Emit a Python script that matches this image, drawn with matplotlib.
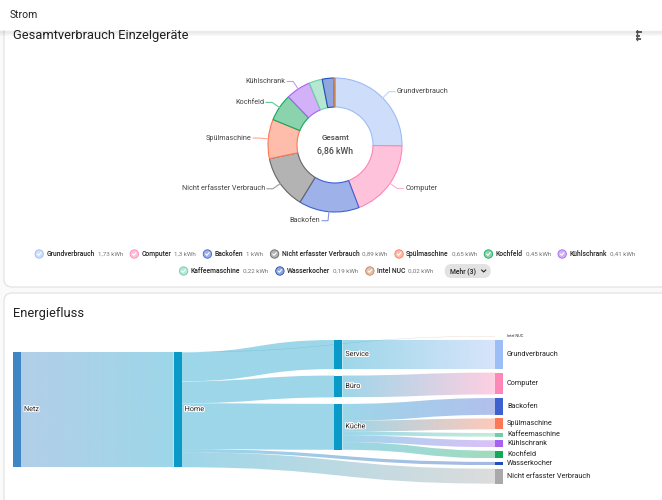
import matplotlib.pyplot as plt
import matplotlib.colors as mcolors
import matplotlib.patheffects as pe
from matplotlib.patches import FancyBboxPatch, Rectangle, Circle, PathPatch
from matplotlib.path import Path
import numpy as np

plt.rcParams['font.family'] = ['Roboto', 'DejaVu Sans']

# Verbrauch der Einzelgeraete in kWh
geraete = ['Grundverbrauch', 'Computer', 'Backofen', 'Nicht erfasster Verbrauch',
           'Spülmaschine', 'Kochfeld', 'Kühlschrank', 'Kaffeemaschine',
           'Wasserkocher', 'Intel NUC']
verbrauch = [1.73, 1.3, 1.0, 0.89, 0.65, 0.45, 0.41, 0.22, 0.19, 0.02]
werte_text = ['1,73 kWh', '1,3 kWh', '1 kWh', '0,89 kWh', '0,65 kWh', '0,45 kWh',
              '0,41 kWh', '0,22 kWh', '0,19 kWh', '0,02 kWh']
gesamt_text = '6,86 kWh'
mehr_text = 'Mehr (3)'
ring_labels = geraete[:7]          # nur die grossen bekommen ein Label am Ring
legende_zeile1 = geraete[:7]
legende_zeile2 = geraete[7:]

# Energiefluss: Reihenfolge rechts und aus welchem Bereich
fluss_ziele = ['Intel NUC', 'Grundverbrauch', 'Computer', 'Backofen', 'Spülmaschine',
               'Kaffeemaschine', 'Kühlschrank', 'Kochfeld', 'Wasserkocher',
               'Nicht erfasster Verbrauch']
fluss_bereich = ['Home', 'Service', 'Büro', 'Küche', 'Küche', 'Küche', 'Küche',
                 'Küche', 'Home', 'Home']

farben = {'Grundverbrauch': '#9cbdf5', 'Computer': '#fd87b5', 'Backofen': '#3d62d0',
          'Nicht erfasster Verbrauch': '#666666', 'Spülmaschine': '#fd7856',
          'Kochfeld': '#14a85b', 'Kühlschrank': '#a663f0', 'Kaffeemaschine': '#6ccfa8',
          'Wasserkocher': '#1f4fb8', 'Intel NUC': '#c8825a'}
knoten_farben = dict(farben)
knoten_farben['Nicht erfasster Verbrauch'] = '#a9a9a9'
knoten_farben['Netz'] = '#3f86c6'
for b in ['Home', 'Service', 'Büro', 'Küche']:
    knoten_farben[b] = '#0a9ac8'


def hell(c, f=0.5):
    r = np.array(mcolors.to_rgb(c))
    return tuple(r * (1 - f) + f)


W, H = 662, 500
fig = plt.figure(figsize=(6.62, 5.0), dpi=100, facecolor='#fafafa')

# Hintergrund-Achse in Pixeln
bg = fig.add_axes([0, 0, 1, 1])
bg.set_xlim(0, W)
bg.set_ylim(H, 0)
bg.axis('off')
bg.set_facecolor('none')

bg.add_patch(FancyBboxPatch((4, -20), 720, 307, boxstyle='round,pad=0,rounding_size=8',
                            fc='white', ec='#e0e0e0', lw=0.8))
bg.add_patch(FancyBboxPatch((4, 293), 720, 240, boxstyle='round,pad=0,rounding_size=8',
                            fc='white', ec='#e0e0e0', lw=0.8))
bg.text(13, 39.5, 'Gesamtverbrauch Einzelgeräte', fontsize=9.3, color='#212121', va='baseline')
bg.text(13, 316.5, 'Energiefluss', fontsize=9.3, color='#212121', va='baseline')

# kleines Icon rechts oben
for yy, l in [(32, 6), (35.5, 4), (39, 5)]:
    bg.plot([636, 636 + l], [yy, yy], color='#555555', lw=1.3, solid_capstyle='butt')
bg.plot([636.5, 636.5], [30, 40], color='#555555', lw=1.0)

# Kopfzeile
bg.add_patch(Rectangle((0, 0), W, 30, fc='white', ec='none', zorder=10))
for i in range(5):
    bg.plot([0, W], [30.5 + i, 30.5 + i], color='#000000', alpha=0.07 - i * 0.013, lw=1, zorder=10)
bg.text(10, 15.5, 'Strom', fontsize=7.5, color='#212121', va='center', zorder=11)

# ---------- Ring ----------
R = 67.0
ad = fig.add_axes([(335 - 150) / W, 1 - (145 + 150) / H, 300 / W, 300 / H])
fuell = [hell(farben[g]) for g in geraete]
wedges, _ = ad.pie(verbrauch, startangle=90, counterclock=False, colors=fuell,
                   wedgeprops=dict(width=29 / R, linewidth=0.8))
for w, g in zip(wedges, geraete):
    w.set_edgecolor(farben[g])
ad.set_xlim(-150 / R, 150 / R)
ad.set_ylim(-150 / R, 150 / R)
ad.set_aspect('equal')
ad.axis('off')

for w, g in zip(wedges, geraete):
    if g not in ring_labels:
        continue
    th = np.deg2rad((w.theta1 + w.theta2) / 2)
    c, s = np.cos(th), np.sin(th)
    p1 = (c * 76 / R, s * 76 / R)
    d = 1 if c > 0 else -1
    p2 = (p1[0] + d * 6 / R, p1[1])
    ad.plot([c, p1[0], p2[0]], [s, p1[1], p2[1]], color=hell(farben[g], 0.35), lw=0.8,
            clip_on=False)
    ad.text(p2[0] + d * 2 / R, p2[1], g, fontsize=5.2, color='#444444',
            ha='left' if d > 0 else 'right', va='center')

ad.text(0, 7 / R, 'Gesamt', ha='center', va='center', fontsize=5.8, color='#4a4a4a',
        weight='medium')
ad.text(0, -6 / R, gesamt_text, ha='center', va='center', fontsize=6.3, color='#4a4a4a',
        weight='medium')

# ---------- Legende ----------
renderer = fig.canvas.get_renderer()


def legende(zeile, y, chip=False):
    teile = []
    gesamtbreite = 0
    for g in zeile:
        i = geraete.index(g)
        t1 = bg.text(0, y, g, fontsize=4.9, color='#212121', va='center', weight='medium')
        t2 = bg.text(0, y, werte_text[i], fontsize=4.5, color='#757575', va='center')
        b1 = t1.get_window_extent(renderer).width
        b2 = t2.get_window_extent(renderer).width
        teile.append((g, t1, t2, b1, b2))
        gesamtbreite += 11.5 + b1 + 3 + b2
    gesamtbreite += 7 * (len(zeile) - 1)
    if chip:
        gesamtbreite += 11 + 46
    x = 335 - gesamtbreite / 2
    for g, t1, t2, b1, b2 in teile:
        bg.add_patch(Circle((x + 4.3, y), 4.2, fc=hell(farben[g]), ec=farben[g], lw=0.6))
        bg.plot([x + 2.6, x + 3.8, x + 6.0], [y + 0.1, y + 1.3, y - 1.3], color='white', lw=0.8)
        x += 11.5
        t1.set_x(x)
        x += b1 + 3
        t2.set_x(x)
        x += b2 + 7
    if chip:
        x += 4
        bg.add_patch(FancyBboxPatch((x, y - 7), 46, 14, boxstyle='round,pad=0,rounding_size=7',
                                    fc='#e2e2e2', ec='none'))
        bg.text(x + 5, y, mehr_text, fontsize=4.9, color='#212121', va='center', weight='medium')
        bg.plot([x + 37, x + 39, x + 41], [y - 1, y + 1, y - 1], color='#212121', lw=0.8)


legende(legende_zeile1, 254)
legende(legende_zeile2, 271, chip=True)

# ---------- Energiefluss ----------
SP = 160.67            # Pixel je Spalte
NW = 8 / SP            # Knotenbreite
PX = 1 / 16.8          # kWh je Pixel
asx = fig.add_axes([13 / W, 1 - 490 / H, 490 / W, 160 / H])
asx.axis('off')
asx.set_facecolor('none')

wert = dict(zip(geraete, verbrauch))
bereiche = []
for b in fluss_bereich:
    if b != 'Home' and b not in bereiche:
        bereiche.append(b)
bereich_wert = {b: sum(wert[z] for z, q in zip(fluss_ziele, fluss_bereich) if q == b)
                for b in bereiche}
summe = sum(wert[z] for z in fluss_ziele)

spalten = [
    (['Netz'], [summe], 22 * PX, 0),
    (['Home'], [summe], 22 * PX, 0),
    (bereiche, [bereich_wert[b] for b in bereiche], 10 * PX, 6.5 * PX),
    (fluss_ziele, [wert[z] for z in fluss_ziele], 6 * PX, 3.6 * PX),
]
pos = {}
for sp, (namen, werte, oben, luecke) in enumerate(spalten):
    y = oben
    for n, v in zip(namen, werte):
        pos[n] = (sp, y, v)
        y += v + luecke


def fluss(quelle, ziel, y0, v):
    sq, _, _ = pos[quelle]
    sz, y1, _ = pos[ziel]
    x0, x1 = sq + NW, sz
    xm = (x0 + x1) / 2
    verts = [(x0, y0), (xm, y0), (xm, y1), (x1, y1), (x1, y1 + v),
             (xm, y1 + v), (xm, y0 + v), (x0, y0 + v), (x0, y0)]
    codes = [Path.MOVETO, Path.CURVE4, Path.CURVE4, Path.CURVE4, Path.LINETO,
             Path.CURVE4, Path.CURVE4, Path.CURVE4, Path.CLOSEPOLY]
    patch = PathPatch(Path(verts, codes), fc='none', ec='none')
    asx.add_patch(patch)
    t = np.linspace(0, 1, 256)[:, None]
    a = np.array(mcolors.to_rgba(knoten_farben[quelle], 0.4))
    b = np.array(mcolors.to_rgba(knoten_farben[ziel], 0.4))
    bild = (1 - t) * a + t * b
    im = asx.imshow(bild[None], extent=(x0, x1, max(y0, y1) + v, min(y0, y1)),
                    aspect='auto', interpolation='bilinear', zorder=1)
    im.set_clip_path(patch)


# Netz -> Home
fluss('Netz', 'Home', pos['Netz'][1], summe)
# Home -> Bereiche / Geraete
y0 = pos['Home'][1]
erledigt = []
for z, q in zip(fluss_ziele, fluss_bereich):
    if q == 'Home':
        fluss('Home', z, y0, wert[z])
        y0 += wert[z]
    elif q not in erledigt:
        erledigt.append(q)
        fluss('Home', q, y0, bereich_wert[q])
        y0 += bereich_wert[q]
# Bereiche -> Geraete
ab = {b: pos[b][1] for b in bereiche}
for z, q in zip(fluss_ziele, fluss_bereich):
    if q != 'Home':
        fluss(q, z, ab[q], wert[z])
        ab[q] += wert[z]

halo = [pe.withStroke(linewidth=1.5, foreground='white')]
for n, (sp, y, v) in pos.items():
    asx.add_patch(Rectangle((sp, y), NW, max(v, 0.3 * PX), fc=knoten_farben[n], ec='none',
                            zorder=3))
    if sp < 3:
        asx.text(sp + NW + 3 / SP, y + v / 2, n, fontsize=5.2, color='#222222',
                 va='center', zorder=4, path_effects=halo)
    else:
        asx.text(sp + NW + 4 / SP, y + v / 2, n, fontsize=2.8 if v < 0.05 else 5.2,
                 color='#222222', va='center', zorder=4)

asx.set_xlim(0, 490 / SP)
asx.set_ylim(160 * PX, 0)

fig.savefig('out.png', dpi=100, facecolor=fig.get_facecolor())
